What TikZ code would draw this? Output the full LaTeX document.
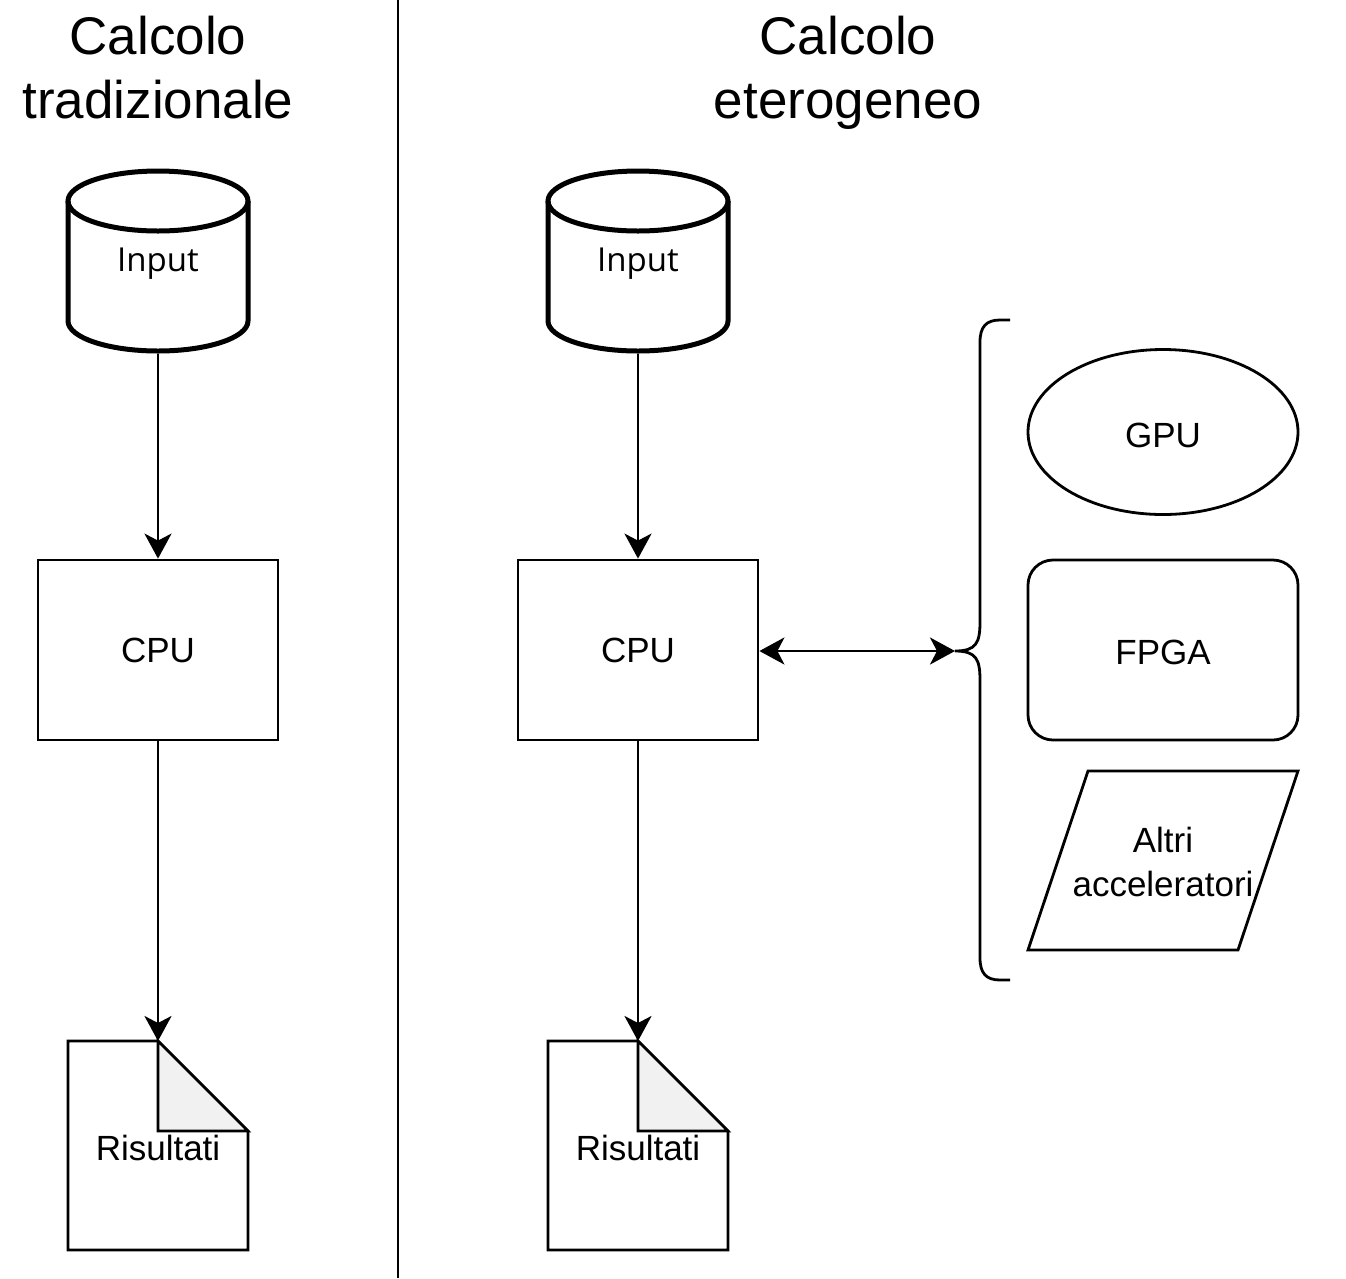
\documentclass[tikz,border=0pt]{standalone}
\usepackage{fontspec}
\setmainfont{Liberation Sans}
\newfontfamily\inputfont{Open Sans}
\usetikzlibrary{arrows.meta,shapes.geometric}
\begin{document}
\begin{tikzpicture}[x=1pt,y=-1pt,
  thinline/.style={line width=2.8pt},
  thickline/.style={line width=5pt},
  lbl/.style={font=\fontsize{35}{42}\selectfont},
  ttl/.style={font=\fontsize{53}{64}\selectfont, anchor=base},
  arr/.style={thinline, -{Stealth[length=25pt,width=27pt,inset=7pt]}},
  darr/.style={thinline, {Stealth[length=25pt,width=27pt,inset=7pt]}-{Stealth[length=25pt,width=27pt,inset=7pt]}},
  box/.style={draw, thinline, minimum width=240pt, minimum height=180pt, inner sep=0pt},
  ghost/.style={inner sep=0pt, outer sep=0pt}
]
\useasboundingbox (0,0) rectangle (1346,1278);
\fill[white] (0,0) rectangle (1346,1278);

% titles
\node[ttl] (t1a) at (158,54) {Calcolo};
\node[ttl] (t1b) at (158,118) {tradizionale};
\node[ttl] (t2a) at (848,54) {Calcolo};
\node[ttl] (t2b) at (848,118) {eterogeneo};

% divider
\coordinate (d1) at (398,0);
\coordinate (d2) at (398,1278);
\draw[thinline] (d1) -- (d2);

% cylinders
\foreach \cx/\nm in {158/in1, 638/in2}{
  \draw[thickline, fill=white] (\cx-90,201) -- (\cx-90,321) arc[start angle=180,end angle=0,x radius=90,y radius=30] -- (\cx+90,201);
  \draw[thickline] (\cx,201) ellipse[x radius=90,y radius=30];
  \node[ghost, minimum width=185pt, minimum height=186pt] (\nm) at (\cx,260.5) {};
  \node[font=\inputfont\fontsize{33}{38}\selectfont] at (\cx,264) {Input};
}

% CPU boxes
\node[box, lbl] (cpu1) at (158,650) {CPU};
\node[box, lbl] (cpu2) at (638,650) {CPU};

% documents
\foreach \cx/\nm in {158/doc1, 638/doc2}{
  \draw[thinline, fill=white] (\cx-90,1041) -- (\cx,1041) -- (\cx+90,1131) -- (\cx+90,1250) -- (\cx-90,1250) -- cycle;
  \draw[thinline, fill={rgb,255:red,241;green,241;blue,241}, line join=miter] (\cx,1041) -- (\cx+90,1131) -- (\cx,1131) -- cycle;
  \node[ghost, minimum width=180pt, minimum height=209pt] (\nm) at (\cx,1145.5) {};
  \node[lbl] at (\cx,1148) {Risultati};
}

% arrows
\draw[arr] (in1.south) -- (cpu1.north);
\draw[arr] (cpu1.south) -- (doc1.north);
\draw[arr] (in2.south) -- (cpu2.north);
\draw[arr] (cpu2.south) -- (doc2.north);

% brace
\coordinate (br) at (955,651);
\coordinate (brtop) at (1010,320);
\coordinate (brbot) at (1010,980);
\draw[thinline] (brtop) -- (1000,320) .. controls (986,320) and (980,327) .. (980,342)
  -- (980,622) .. controls (980,643) and (976,651) .. (br)
  .. controls (976,651) and (980,659) .. (980,680)
  -- (980,958) .. controls (980,973) and (986,980) .. (1000,980) -- (brbot);
\draw[darr] (cpu2.east |- br) -- (br);

% accelerators
\node[draw, thinline, ellipse, minimum width=270pt, minimum height=165pt, inner sep=0pt, lbl] (gpu) at (1163,432) {};
\node[lbl] at (1163,435) {GPU};
\node[draw, thinline, rounded corners=25pt, minimum width=270pt, minimum height=180pt, inner sep=0pt, lbl] (fpga) at (1163,650) {};
\node[lbl] at (1163,652) {FPGA};
\draw[thinline] (1088,771) -- (1298,771) -- (1238,950) -- (1028,950) -- cycle;
\node[align=center, font=\fontsize{35}{44}\selectfont] (altri) at (1163,862) {Altri\\acceleratori};
\end{tikzpicture}
\end{document}
